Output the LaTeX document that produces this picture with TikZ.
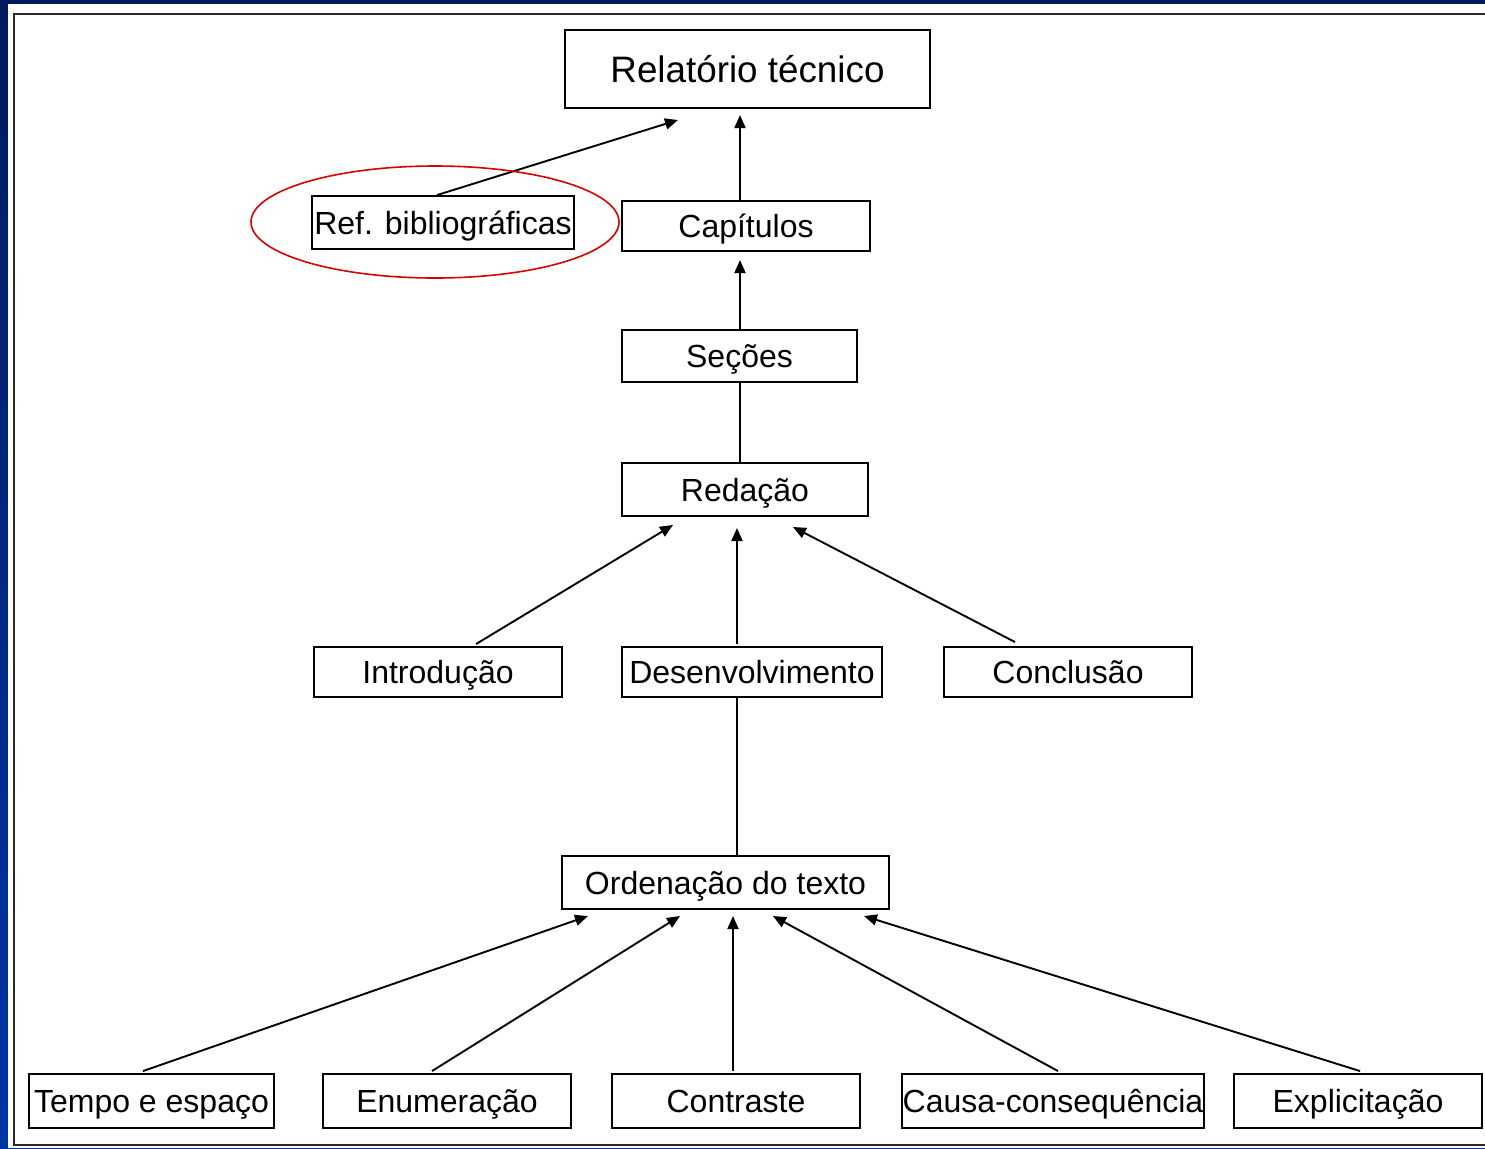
\documentclass[tikz,border=0pt]{standalone}
\usepackage{fontspec}
\setmainfont{Liberation Sans}
\usetikzlibrary{arrows.meta}
\definecolor{navytop}{HTML}{001A5E}
\definecolor{navybot}{HTML}{0035A8}
\definecolor{framegray}{HTML}{2A2A2A}
\begin{document}
\begin{tikzpicture}[x=0.5pt,y=-0.5pt,
  box/.style={draw=black, line width=0.95pt, rectangle, inner sep=0pt, text height=11.5pt, text depth=0pt, font=\fontsize{16}{18}\selectfont},
  arr/.style={draw=black, line width=0.95pt, -{Triangle[length=6.5pt,width=5.5pt]}},
  lnk/.style={draw=black, line width=0.95pt}]
\useasboundingbox (0,0) rectangle (1485,1148);
% slide background
\shade[top color=navytop, bottom color=navybot] (0,0) rectangle (1485,1148);
\fill[white] (8,4) rectangle (1485,1148);
\draw[framegray, line width=1.3pt] (1485,14) -- (14,14) -- (14,1145) -- (1485,1145);
% nodes
\node[box, minimum width=182.5pt, minimum height=39pt, text height=13.2pt, font=\fontsize{18.4}{20}\selectfont] (rel) at (747.5,69) {Relatório técnico};
\node[box, minimum width=131pt, minimum height=26.5pt] (ref) at (443,222.5) {Ref. bibliográficas};
\node[box, minimum width=124pt, minimum height=25pt] (cap) at (746,226) {Capítulos};
\node[box, minimum width=117.5pt, minimum height=26pt] (sec) at (739.5,356) {Seções};
\node[box, minimum width=123pt, minimum height=26.5pt] (red) at (745,489.5) {Redação};
\node[box, minimum width=124pt, minimum height=25pt] (intro) at (438,672) {Introdução};
\node[box, minimum width=130pt, minimum height=25pt] (des) at (752,672) {Desenvolvimento};
\node[box, minimum width=124pt, minimum height=25pt] (conc) at (1068,672) {Conclusão};
\node[box, minimum width=163.5pt, minimum height=26.5pt] (ord) at (725.5,882.5) {Ordenação do texto};
\node[box, minimum width=122.5pt, minimum height=27pt] (tempo) at (151.5,1101) {Tempo e espaço};
\node[box, minimum width=124pt, minimum height=27pt] (enum) at (447,1101) {Enumeração};
\node[box, minimum width=124pt, minimum height=27pt] (contr) at (736,1101) {Contraste};
\node[box, minimum width=151pt, minimum height=27pt] (causa) at (1053,1101) {Causa-consequência};
\node[box, minimum width=124pt, minimum height=27pt] (expl) at (1358,1101) {Explicitação};
% arrow tip points
\coordinate (tRef) at (678,120);
\coordinate (tCap) at (740,115);
\coordinate (tSec) at (740,260);
\coordinate (tIntro) at (673,525);
\coordinate (tDes) at (737,528);
\coordinate (tConc) at (793,527);
\coordinate (tTempo) at (588,916);
\coordinate (tEnum) at (680,916);
\coordinate (tContr) at (733,916);
\coordinate (tCausa) at (773,916);
\coordinate (tExpl) at (864,916);
% connectors
\draw[arr] ([xshift=-3pt]ref.north) -- (tRef);
\draw[arr] ([xshift=-3pt]cap.north) -- (tCap);
\draw[arr] ([xshift=0.25pt]sec.north) -- (tSec);
\draw[lnk] ([xshift=0.25pt]sec.south) -- ([xshift=0.25pt]sec.south |- red.north);
\draw[arr] ([xshift=19pt,yshift=1pt]intro.north) -- (tIntro);
\draw[arr] ([xshift=-7.5pt,yshift=1pt]des.north) -- (tDes);
\draw[arr] ([xshift=-26.5pt,yshift=2pt]conc.north) -- (tConc);
\draw[lnk] ([xshift=-7.5pt]des.south) -- ([xshift=-7.5pt]des.south |- ord.north);
\draw[arr] ([xshift=-4.25pt,yshift=1pt]tempo.north) -- (tTempo);
\draw[arr] ([xshift=-7.5pt,yshift=1pt]enum.north) -- (tEnum);
\draw[arr] ([xshift=-1.5pt,yshift=1pt]contr.north) -- (tContr);
\draw[arr] ([xshift=2.5pt,yshift=1pt]causa.north) -- (tCausa);
\draw[arr] ([xshift=1pt,yshift=1pt]expl.north) -- (tExpl);
% red highlight ellipse
\draw[red!85!black, line width=0.8pt] (435,222) ellipse [x radius=92pt, y radius=28pt];
\end{tikzpicture}
\end{document}
